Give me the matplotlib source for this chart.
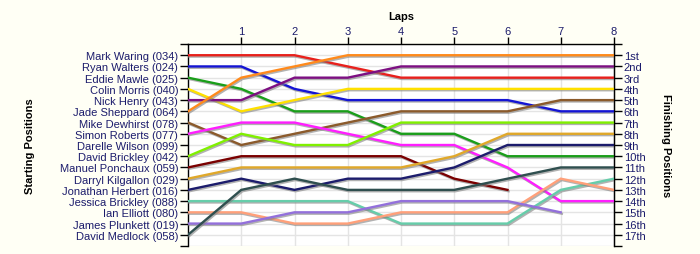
import matplotlib
matplotlib.use("Agg")
import matplotlib.pyplot as plt
import matplotlib.patheffects as pe
import numpy as np

laps = [0, 1, 2, 3, 4, 5, 6, 7, 8]
drivers = [
    "Mark Waring (034)", "Ryan Walters (024)", "Eddie Mawle (025)",
    "Colin Morris (040)", "Nick Henry (043)", "Jade Sheppard (064)",
    "Mike Dewhirst (078)", "Simon Roberts (077)", "Darelle Wilson (099)",
    "David Brickley (042)", "Manuel Ponchaux (059)", "Darryl Kilgallon (029)",
    "Jonathan Herbert (016)", "Jessica Brickley (088)", "Ian Elliott (080)",
    "James Plunkett (019)", "David Medlock (058)",
]
N = None
positions = [
    [1, 1, 1, 2, 3, 3, 3, 3, 3],
    [2, 2, 4, 5, 5, 5, 5, 6, 6],
    [3, 4, 6, 6, 8, 8, 10, 10, 10],
    [4, 6, 5, 4, 4, 4, 4, 4, 4],
    [5, 5, 3, 3, 2, 2, 2, 2, 2],
    [6, 3, 2, 1, 1, 1, 1, 1, 1],
    [7, 9, 8, 7, 6, 6, 6, 5, 5],
    [8, 7, 7, 8, 9, 9, 11, 14, 14],
    [N, N, N, N, N, N, N, N, N],
    [10, 8, 9, 9, 7, 7, 7, 7, 7],
    [11, 10, 10, 10, 10, 12, 13, N, N],
    [12, 11, 11, 11, 11, 10, 8, 8, 8],
    [13, 12, 13, 12, 12, 11, 9, 9, 9],
    [14, 14, 14, 14, 16, 16, 16, 13, 12],
    [15, 15, 16, 16, 15, 15, 15, 12, 13],
    [16, 16, 15, 15, 14, 14, 14, 15, N],
    [17, 13, 12, 13, 13, 13, 12, 11, 11],
]
colors = [
    "#e8201c", "#1414d4", "#1a9e1a", "#ffe000", "#7d0f82", "#ff8a1c",
    "#8b5a2b", "#ff1eff", "#888888", "#80f000", "#7a0000", "#e0a82a",
    "#1c1c6c", "#66cdaa", "#ffa07a", "#9370db", "#2f4f4f",
]
finish_labels = ["1st", "2nd", "3rd", "4th", "5th", "6th", "7th", "8th", "9th",
                 "10th", "11th", "12th", "13th", "14th", "15th", "16th", "17th"]

plt.rcParams['font.family'] = ['Liberation Sans', 'DejaVu Sans']
label_color = "#1c1c6c"

fig = plt.figure(figsize=(7.0, 2.55), dpi=100)
fig.patch.set_facecolor("#fffff5")
ax = fig.add_axes([188/700, 1-247/255, (614-188)/700, (247-45)/255])
ax.set_facecolor("white")

npos = len(drivers)
ax.set_xlim(laps[0], laps[-1])
ax.set_ylim(npos + 1, 0)

# grid
for x in laps[1:-1]:
    ax.axvline(x, color="#e4e4e4", lw=1.0, zorder=0)
for y in range(0, npos + 2):
    ax.axhline(y, color="#e4e4e4", lw=1.0, zorder=0)

shadow = [pe.SimpleLineShadow(offset=(0.8, -1.0), shadow_color="#808080", alpha=0.6),
          pe.Normal()]
for pos, col in zip(positions, colors):
    ys = np.array([np.nan if p is None else p for p in pos], dtype=float)
    if np.all(np.isnan(ys)):
        continue
    ax.plot(laps, ys, color=col, lw=1.7, solid_joinstyle="miter",
            path_effects=shadow, zorder=3)

# spines
for s in ["top", "left", "right"]:
    ax.spines[s].set_color("black")
    ax.spines[s].set_linewidth(1.0)
ax.spines["bottom"].set_visible(False)

# top axis
ax.xaxis.tick_top()
ax.xaxis.set_label_position("top")
ax.set_xticks(laps[1:])
ax.set_xticklabels([str(l) for l in laps[1:]], color=label_color, fontsize=8)
ax.tick_params(axis="x", direction="out", length=5, width=1, pad=1)
ax.set_xlabel("Laps", fontsize=8, fontweight="bold", labelpad=5)

# left axis
ax.set_yticks(range(0, npos + 2))
ax.set_yticklabels([""] + drivers + [""], color=label_color, fontsize=8)
ax.tick_params(axis="y", direction="out", length=6, width=1, pad=1)
ax.set_ylabel("Starting Positions", fontsize=8, fontweight="bold", labelpad=18)

# right axis
ax2 = ax.twinx()
ax2.set_ylim(npos + 1, 0)
ax2.set_yticks(range(0, npos + 2))
ax2.set_yticklabels([""] + finish_labels + [""], color=label_color, fontsize=8)
ax2.tick_params(axis="y", direction="out", length=6, width=1, pad=1)
for s in ["top", "bottom", "left"]:
    ax2.spines[s].set_visible(False)
ax2.spines["right"].set_color("black")
ax2.set_ylabel("Finishing Positions", fontsize=8, fontweight="bold",
               rotation=-90, labelpad=18)

fig.savefig("out.png", dpi=100, facecolor=fig.get_facecolor())
